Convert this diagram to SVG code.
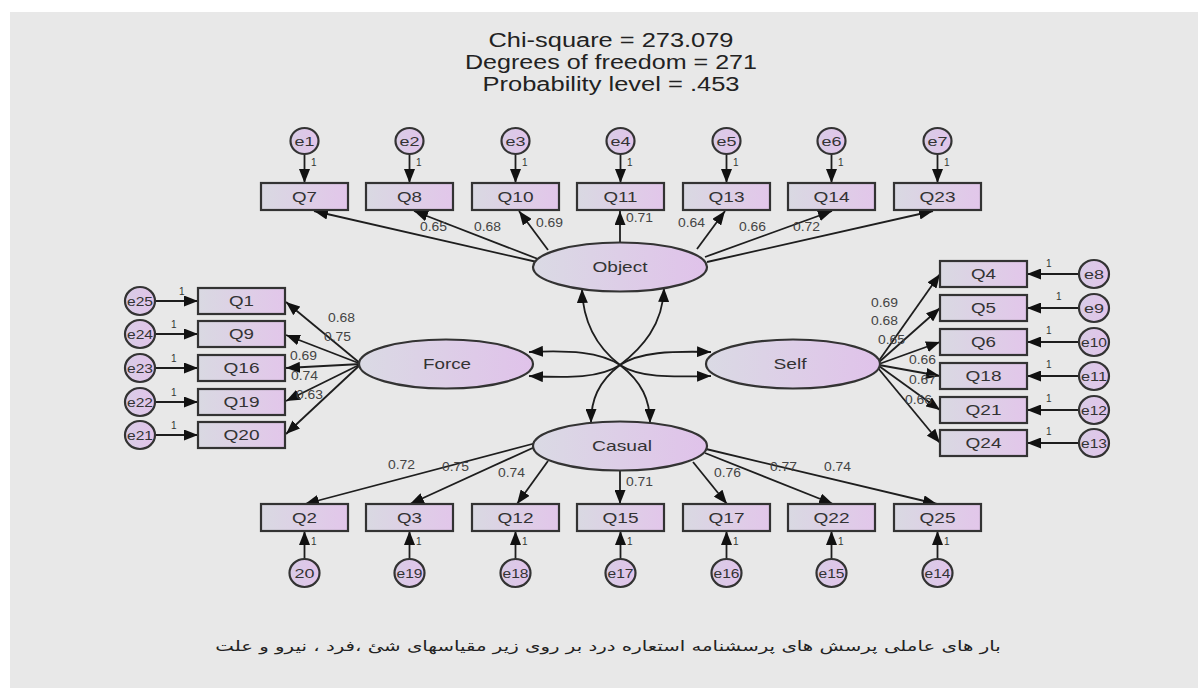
<svg xmlns="http://www.w3.org/2000/svg" width="1198" height="688" viewBox="0 0 1198 688">
<defs>
<linearGradient id="gb" x1="0" y1="0" x2="1" y2="0"><stop offset="0" stop-color="#d9d9e2"/><stop offset="1" stop-color="#e2c6ea"/></linearGradient>
<linearGradient id="ge" x1="0" y1="0" x2="1" y2="0"><stop offset="0" stop-color="#dadae4"/><stop offset="1" stop-color="#e0c2ea"/></linearGradient>
<linearGradient id="gc" x1="0" y1="0" x2="1" y2="0"><stop offset="0" stop-color="#d8cce6"/><stop offset="1" stop-color="#e2c4ea"/></linearGradient>
<marker id="ah" markerUnits="userSpaceOnUse" markerWidth="14" markerHeight="11" refX="14" refY="5.5" orient="auto-start-reverse"><path d="M0,0 L14,5.5 L0,11 z" fill="#111"/></marker>
<style>
.bx{fill:url(#gb);stroke:#333;stroke-width:2.2}
.lv{fill:url(#ge);stroke:#333;stroke-width:2.2}
.er{fill:url(#gc);stroke:#333;stroke-width:2.2}
.c{fill:none;stroke:#1e1e1e;stroke-width:1.8;marker-end:url(#ah)}
.cv{fill:none;stroke:#1e1e1e;stroke-width:1.8;marker-end:url(#ah);marker-start:url(#ah)}
text{font-family:"Liberation Sans",Arial,sans-serif;fill:#333}
.q{font-size:15px;text-anchor:middle}
.l{font-size:15px;text-anchor:middle}
.e{font-size:13px;text-anchor:middle}
.n{font-size:12px;fill:#444}
.o{font-size:10px;fill:#333}
.t{font-size:20px;text-anchor:middle;fill:#222}
</style>
</defs>
<rect width="1198" height="688" fill="#fff"/>
<rect x="10" y="12" width="1188" height="676" fill="#e8e8e8"/>

<g id="title">
<text class="t" x="611" y="47" textLength="245" lengthAdjust="spacingAndGlyphs">Chi-square = 273.079</text>
<text class="t" x="611" y="69" textLength="292" lengthAdjust="spacingAndGlyphs">Degrees of freedom = 271</text>
<text class="t" x="611" y="91" textLength="257" lengthAdjust="spacingAndGlyphs">Probability level = .453</text>
</g>

<g id="connectors">
<path class="c" d="M304.5,154 V183"/><path class="c" d="M409.5,154 V183"/><path class="c" d="M515.5,154 V183"/><path class="c" d="M620.5,154 V183"/><path class="c" d="M726.5,154 V183"/><path class="c" d="M831.5,154 V183"/><path class="c" d="M937.5,154 V183"/>
<path class="c" d="M537,262 L314,211"/><path class="c" d="M538,259 L414,211"/><path class="c" d="M548,250 L519,211"/><path class="c" d="M620,243 V211"/><path class="c" d="M697,249 L725,211"/><path class="c" d="M705,257 L832,211"/><path class="c" d="M707,262 L933,211"/>
<path class="c" d="M361,364 L286,302"/><path class="c" d="M361,364 L286,335"/><path class="c" d="M361,364 L286,368"/><path class="c" d="M361,364 L286,401"/><path class="c" d="M361,364 L286,434"/>
<path class="c" d="M155,301 H198"/><path class="c" d="M155,334 H198"/><path class="c" d="M155,368 H198"/><path class="c" d="M155,402 H198"/><path class="c" d="M155,435 H198"/>
<path class="c" d="M878,362 L940,274"/><path class="c" d="M878,363 L940,308"/><path class="c" d="M879,364 L940,342"/><path class="c" d="M879,365 L940,376"/><path class="c" d="M879,366 L940,410"/><path class="c" d="M878,368 L940,443"/>
<path class="c" d="M1079,274 H1027"/><path class="c" d="M1079,308 H1027"/><path class="c" d="M1079,342 H1027"/><path class="c" d="M1079,376 H1027"/><path class="c" d="M1079,410 H1027"/><path class="c" d="M1079,443 H1027"/>
<path class="c" d="M536,443 L305,504"/><path class="c" d="M537,446 L410,504"/><path class="c" d="M548,461 L517,504"/><path class="c" d="M620,470 V504"/><path class="c" d="M693,462 L727,504"/><path class="c" d="M705,453 L833,504"/><path class="c" d="M706,449 L937,504"/>
<path class="c" d="M304.5,559 V531"/><path class="c" d="M409.5,559 V531"/><path class="c" d="M515.5,559 V531"/><path class="c" d="M620.5,559 V531"/><path class="c" d="M726.5,559 V531"/><path class="c" d="M831.5,559 V531"/><path class="c" d="M937.5,559 V531"/>
<path class="cv" d="M582,289 C583,325 598,348 620,365 C642,382 650,400 650,423"/>
<path class="cv" d="M664,288 C663,325 642,348 620,365 C598,382 591,400 591,423"/>
<path class="cv" d="M529,352 C570,350 600,352 620,365 C640,378 670,377 711,376"/>
<path class="cv" d="M529,376 C570,378 600,378 620,365 C640,352 670,351 711,352"/>
</g>

<g id="labels">
<text class="n" x="420" y="231" textLength="27" lengthAdjust="spacingAndGlyphs">0.65</text>
<text class="n" x="474" y="231" textLength="27" lengthAdjust="spacingAndGlyphs">0.68</text>
<text class="n" x="536" y="227" textLength="27" lengthAdjust="spacingAndGlyphs">0.69</text>
<text class="n" x="626" y="222" textLength="27" lengthAdjust="spacingAndGlyphs">0.71</text>
<text class="n" x="678" y="227" textLength="27" lengthAdjust="spacingAndGlyphs">0.64</text>
<text class="n" x="739" y="231" textLength="27" lengthAdjust="spacingAndGlyphs">0.66</text>
<text class="n" x="793" y="231" textLength="27" lengthAdjust="spacingAndGlyphs">0.72</text>
<text class="n" x="328" y="322" textLength="27" lengthAdjust="spacingAndGlyphs">0.68</text>
<text class="n" x="324" y="341" textLength="27" lengthAdjust="spacingAndGlyphs">0.75</text>
<text class="n" x="290" y="360" textLength="27" lengthAdjust="spacingAndGlyphs">0.69</text>
<text class="n" x="291" y="380" textLength="27" lengthAdjust="spacingAndGlyphs">0.74</text>
<text class="n" x="296" y="399" textLength="27" lengthAdjust="spacingAndGlyphs">0.63</text>
<text class="n" x="871" y="307" textLength="27" lengthAdjust="spacingAndGlyphs">0.69</text>
<text class="n" x="871" y="325" textLength="27" lengthAdjust="spacingAndGlyphs">0.68</text>
<text class="n" x="878" y="344" textLength="27" lengthAdjust="spacingAndGlyphs">0.65</text>
<text class="n" x="909" y="364" textLength="27" lengthAdjust="spacingAndGlyphs">0.66</text>
<text class="n" x="909" y="384" textLength="27" lengthAdjust="spacingAndGlyphs">0.67</text>
<text class="n" x="905" y="404" textLength="27" lengthAdjust="spacingAndGlyphs">0.66</text>
<text class="n" x="388" y="469" textLength="27" lengthAdjust="spacingAndGlyphs">0.72</text>
<text class="n" x="442" y="471" textLength="27" lengthAdjust="spacingAndGlyphs">0.75</text>
<text class="n" x="498" y="477" textLength="27" lengthAdjust="spacingAndGlyphs">0.74</text>
<text class="n" x="626" y="486" textLength="27" lengthAdjust="spacingAndGlyphs">0.71</text>
<text class="n" x="714" y="477" textLength="27" lengthAdjust="spacingAndGlyphs">0.76</text>
<text class="n" x="770" y="471" textLength="27" lengthAdjust="spacingAndGlyphs">0.77</text>
<text class="n" x="824" y="471" textLength="27" lengthAdjust="spacingAndGlyphs">0.74</text>
<text class="o" x="311" y="166">1</text><text class="o" x="416" y="166">1</text><text class="o" x="522" y="166">1</text><text class="o" x="627" y="166">1</text><text class="o" x="733" y="166">1</text><text class="o" x="838" y="166">1</text><text class="o" x="944" y="166">1</text>
<text class="o" x="179" y="295">1</text><text class="o" x="171" y="328">1</text><text class="o" x="171" y="362">1</text><text class="o" x="171" y="396">1</text><text class="o" x="171" y="429">1</text>
<text class="o" x="1046" y="267">1</text><text class="o" x="1056" y="300">1</text><text class="o" x="1046" y="334">1</text><text class="o" x="1046" y="368">1</text><text class="o" x="1046" y="402">1</text><text class="o" x="1046" y="435">1</text>
<text class="o" x="311" y="545">1</text><text class="o" x="416" y="545">1</text><text class="o" x="522" y="545">1</text><text class="o" x="627" y="545">1</text><text class="o" x="733" y="545">1</text><text class="o" x="838" y="545">1</text><text class="o" x="944" y="545">1</text>
</g>

<g id="Object"><ellipse class="lv" cx="620" cy="267" rx="87" ry="24.5"/><text class="l" x="620" y="272" textLength="55" lengthAdjust="spacingAndGlyphs">Object</text></g>
<g id="Force"><ellipse class="lv" cx="446" cy="364" rx="87" ry="24.5"/><text class="l" x="447" y="369" textLength="48" lengthAdjust="spacingAndGlyphs">Force</text></g>
<g id="Self"><ellipse class="lv" cx="793" cy="364" rx="87" ry="24.5"/><text class="l" x="790" y="369" textLength="33" lengthAdjust="spacingAndGlyphs">Self</text></g>
<g id="Casual"><ellipse class="lv" cx="620" cy="446" rx="87" ry="24.5"/><text class="l" x="622" y="451" textLength="60" lengthAdjust="spacingAndGlyphs">Casual</text></g>

<g id="Q7"><rect class="bx" x="261" y="183" width="87" height="27"/><text class="q" x="304.5" y="202" textLength="25" lengthAdjust="spacingAndGlyphs">Q7</text></g>
<g id="Q8"><rect class="bx" x="366" y="183" width="87" height="27"/><text class="q" x="409.5" y="202" textLength="25" lengthAdjust="spacingAndGlyphs">Q8</text></g>
<g id="Q10"><rect class="bx" x="472" y="183" width="87" height="27"/><text class="q" x="515.5" y="202" textLength="36" lengthAdjust="spacingAndGlyphs">Q10</text></g>
<g id="Q11"><rect class="bx" x="577" y="183" width="87" height="27"/><text class="q" x="620.5" y="202" textLength="34" lengthAdjust="spacingAndGlyphs">Q11</text></g>
<g id="Q13"><rect class="bx" x="683" y="183" width="87" height="27"/><text class="q" x="726.5" y="202" textLength="36" lengthAdjust="spacingAndGlyphs">Q13</text></g>
<g id="Q14"><rect class="bx" x="788" y="183" width="87" height="27"/><text class="q" x="831.5" y="202" textLength="36" lengthAdjust="spacingAndGlyphs">Q14</text></g>
<g id="Q23"><rect class="bx" x="894" y="183" width="87" height="27"/><text class="q" x="937.5" y="202" textLength="36" lengthAdjust="spacingAndGlyphs">Q23</text></g>

<g id="Q1"><rect class="bx" x="198" y="288" width="87" height="26"/><text class="q" x="241.5" y="306" textLength="25" lengthAdjust="spacingAndGlyphs">Q1</text></g>
<g id="Q9"><rect class="bx" x="198" y="321" width="87" height="26"/><text class="q" x="241.5" y="339" textLength="25" lengthAdjust="spacingAndGlyphs">Q9</text></g>
<g id="Q16"><rect class="bx" x="198" y="355" width="87" height="26"/><text class="q" x="241.5" y="373" textLength="36" lengthAdjust="spacingAndGlyphs">Q16</text></g>
<g id="Q19"><rect class="bx" x="198" y="389" width="87" height="26"/><text class="q" x="241.5" y="407" textLength="36" lengthAdjust="spacingAndGlyphs">Q19</text></g>
<g id="Q20"><rect class="bx" x="198" y="422" width="87" height="26"/><text class="q" x="241.5" y="440" textLength="36" lengthAdjust="spacingAndGlyphs">Q20</text></g>

<g id="Q4"><rect class="bx" x="940" y="261" width="87" height="26"/><text class="q" x="983.5" y="279" textLength="25" lengthAdjust="spacingAndGlyphs">Q4</text></g>
<g id="Q5"><rect class="bx" x="940" y="295" width="87" height="26"/><text class="q" x="983.5" y="313" textLength="25" lengthAdjust="spacingAndGlyphs">Q5</text></g>
<g id="Q6"><rect class="bx" x="940" y="329" width="87" height="26"/><text class="q" x="983.5" y="347" textLength="25" lengthAdjust="spacingAndGlyphs">Q6</text></g>
<g id="Q18"><rect class="bx" x="940" y="363" width="87" height="26"/><text class="q" x="983.5" y="381" textLength="36" lengthAdjust="spacingAndGlyphs">Q18</text></g>
<g id="Q21"><rect class="bx" x="940" y="397" width="87" height="26"/><text class="q" x="983.5" y="415" textLength="36" lengthAdjust="spacingAndGlyphs">Q21</text></g>
<g id="Q24"><rect class="bx" x="940" y="430" width="87" height="26"/><text class="q" x="983.5" y="448" textLength="36" lengthAdjust="spacingAndGlyphs">Q24</text></g>

<g id="Q2"><rect class="bx" x="261" y="504" width="87" height="27"/><text class="q" x="304.5" y="523" textLength="25" lengthAdjust="spacingAndGlyphs">Q2</text></g>
<g id="Q3"><rect class="bx" x="366" y="504" width="87" height="27"/><text class="q" x="409.5" y="523" textLength="25" lengthAdjust="spacingAndGlyphs">Q3</text></g>
<g id="Q12"><rect class="bx" x="472" y="504" width="87" height="27"/><text class="q" x="515.5" y="523" textLength="36" lengthAdjust="spacingAndGlyphs">Q12</text></g>
<g id="Q15"><rect class="bx" x="577" y="504" width="87" height="27"/><text class="q" x="620.5" y="523" textLength="36" lengthAdjust="spacingAndGlyphs">Q15</text></g>
<g id="Q17"><rect class="bx" x="683" y="504" width="87" height="27"/><text class="q" x="726.5" y="523" textLength="36" lengthAdjust="spacingAndGlyphs">Q17</text></g>
<g id="Q22"><rect class="bx" x="788" y="504" width="87" height="27"/><text class="q" x="831.5" y="523" textLength="36" lengthAdjust="spacingAndGlyphs">Q22</text></g>
<g id="Q25"><rect class="bx" x="894" y="504" width="87" height="27"/><text class="q" x="937.5" y="523" textLength="36" lengthAdjust="spacingAndGlyphs">Q25</text></g>

<g id="e1"><ellipse class="er" cx="304.5" cy="141" rx="14" ry="13"/><text class="e" x="304.5" y="146" textLength="20" lengthAdjust="spacingAndGlyphs">e1</text></g>
<g id="e2"><ellipse class="er" cx="409.5" cy="141" rx="14" ry="13"/><text class="e" x="409.5" y="146" textLength="20" lengthAdjust="spacingAndGlyphs">e2</text></g>
<g id="e3"><ellipse class="er" cx="515.5" cy="141" rx="14" ry="13"/><text class="e" x="515.5" y="146" textLength="20" lengthAdjust="spacingAndGlyphs">e3</text></g>
<g id="e4"><ellipse class="er" cx="620.5" cy="141" rx="14" ry="13"/><text class="e" x="620.5" y="146" textLength="20" lengthAdjust="spacingAndGlyphs">e4</text></g>
<g id="e5"><ellipse class="er" cx="726.5" cy="141" rx="14" ry="13"/><text class="e" x="726.5" y="146" textLength="20" lengthAdjust="spacingAndGlyphs">e5</text></g>
<g id="e6"><ellipse class="er" cx="831.5" cy="141" rx="14" ry="13"/><text class="e" x="831.5" y="146" textLength="20" lengthAdjust="spacingAndGlyphs">e6</text></g>
<g id="e7"><ellipse class="er" cx="937.5" cy="141" rx="14" ry="13"/><text class="e" x="937.5" y="146" textLength="20" lengthAdjust="spacingAndGlyphs">e7</text></g>

<g id="e25"><ellipse class="er" cx="140" cy="301" rx="15" ry="14"/><text class="e" x="140" y="306" textLength="26" lengthAdjust="spacingAndGlyphs">e25</text></g>
<g id="e24"><ellipse class="er" cx="140" cy="334" rx="15" ry="14"/><text class="e" x="140" y="339" textLength="26" lengthAdjust="spacingAndGlyphs">e24</text></g>
<g id="e23"><ellipse class="er" cx="140" cy="368" rx="15" ry="14"/><text class="e" x="140" y="373" textLength="26" lengthAdjust="spacingAndGlyphs">e23</text></g>
<g id="e22"><ellipse class="er" cx="140" cy="402" rx="15" ry="14"/><text class="e" x="140" y="407" textLength="26" lengthAdjust="spacingAndGlyphs">e22</text></g>
<g id="e21"><ellipse class="er" cx="140" cy="435" rx="15" ry="14"/><text class="e" x="140" y="440" textLength="26" lengthAdjust="spacingAndGlyphs">e21</text></g>

<g id="e8"><ellipse class="er" cx="1094" cy="274" rx="15" ry="14"/><text class="e" x="1094" y="279" textLength="20" lengthAdjust="spacingAndGlyphs">e8</text></g>
<g id="e9"><ellipse class="er" cx="1094" cy="308" rx="15" ry="14"/><text class="e" x="1094" y="313" textLength="20" lengthAdjust="spacingAndGlyphs">e9</text></g>
<g id="e10"><ellipse class="er" cx="1094" cy="342" rx="15" ry="14"/><text class="e" x="1094" y="347" textLength="26" lengthAdjust="spacingAndGlyphs">e10</text></g>
<g id="e11"><ellipse class="er" cx="1094" cy="376" rx="15" ry="14"/><text class="e" x="1094" y="381" textLength="26" lengthAdjust="spacingAndGlyphs">e11</text></g>
<g id="e12"><ellipse class="er" cx="1094" cy="410" rx="15" ry="14"/><text class="e" x="1094" y="415" textLength="26" lengthAdjust="spacingAndGlyphs">e12</text></g>
<g id="e13"><ellipse class="er" cx="1094" cy="443" rx="15" ry="14"/><text class="e" x="1094" y="448" textLength="26" lengthAdjust="spacingAndGlyphs">e13</text></g>

<g id="e20"><ellipse class="er" cx="304.5" cy="573" rx="15" ry="14"/><text class="e" x="304.5" y="578" textLength="20" lengthAdjust="spacingAndGlyphs">20</text></g>
<g id="e19"><ellipse class="er" cx="409.5" cy="573" rx="15" ry="14"/><text class="e" x="409.5" y="578" textLength="26" lengthAdjust="spacingAndGlyphs">e19</text></g>
<g id="e18"><ellipse class="er" cx="515.5" cy="573" rx="15" ry="14"/><text class="e" x="515.5" y="578" textLength="26" lengthAdjust="spacingAndGlyphs">e18</text></g>
<g id="e17"><ellipse class="er" cx="620.5" cy="573" rx="15" ry="14"/><text class="e" x="620.5" y="578" textLength="26" lengthAdjust="spacingAndGlyphs">e17</text></g>
<g id="e16"><ellipse class="er" cx="726.5" cy="573" rx="15" ry="14"/><text class="e" x="726.5" y="578" textLength="26" lengthAdjust="spacingAndGlyphs">e16</text></g>
<g id="e15"><ellipse class="er" cx="831.5" cy="573" rx="15" ry="14"/><text class="e" x="831.5" y="578" textLength="26" lengthAdjust="spacingAndGlyphs">e15</text></g>
<g id="e14"><ellipse class="er" cx="937.5" cy="573" rx="15" ry="14"/><text class="e" x="937.5" y="578" textLength="26" lengthAdjust="spacingAndGlyphs">e14</text></g>

<g id="caption">
<text x="0" y="0" transform="translate(608 651) scale(1.41 1)" direction="rtl" text-anchor="middle" style="font-family:'DejaVu Sans','Liberation Sans',sans-serif;font-size:14px;fill:#222">بار های عاملی پرسش های پرسشنامه استعاره درد بر روی زیر مقیاسهای شئ ،فرد ، نیرو و علت</text>
</g>
</svg>
